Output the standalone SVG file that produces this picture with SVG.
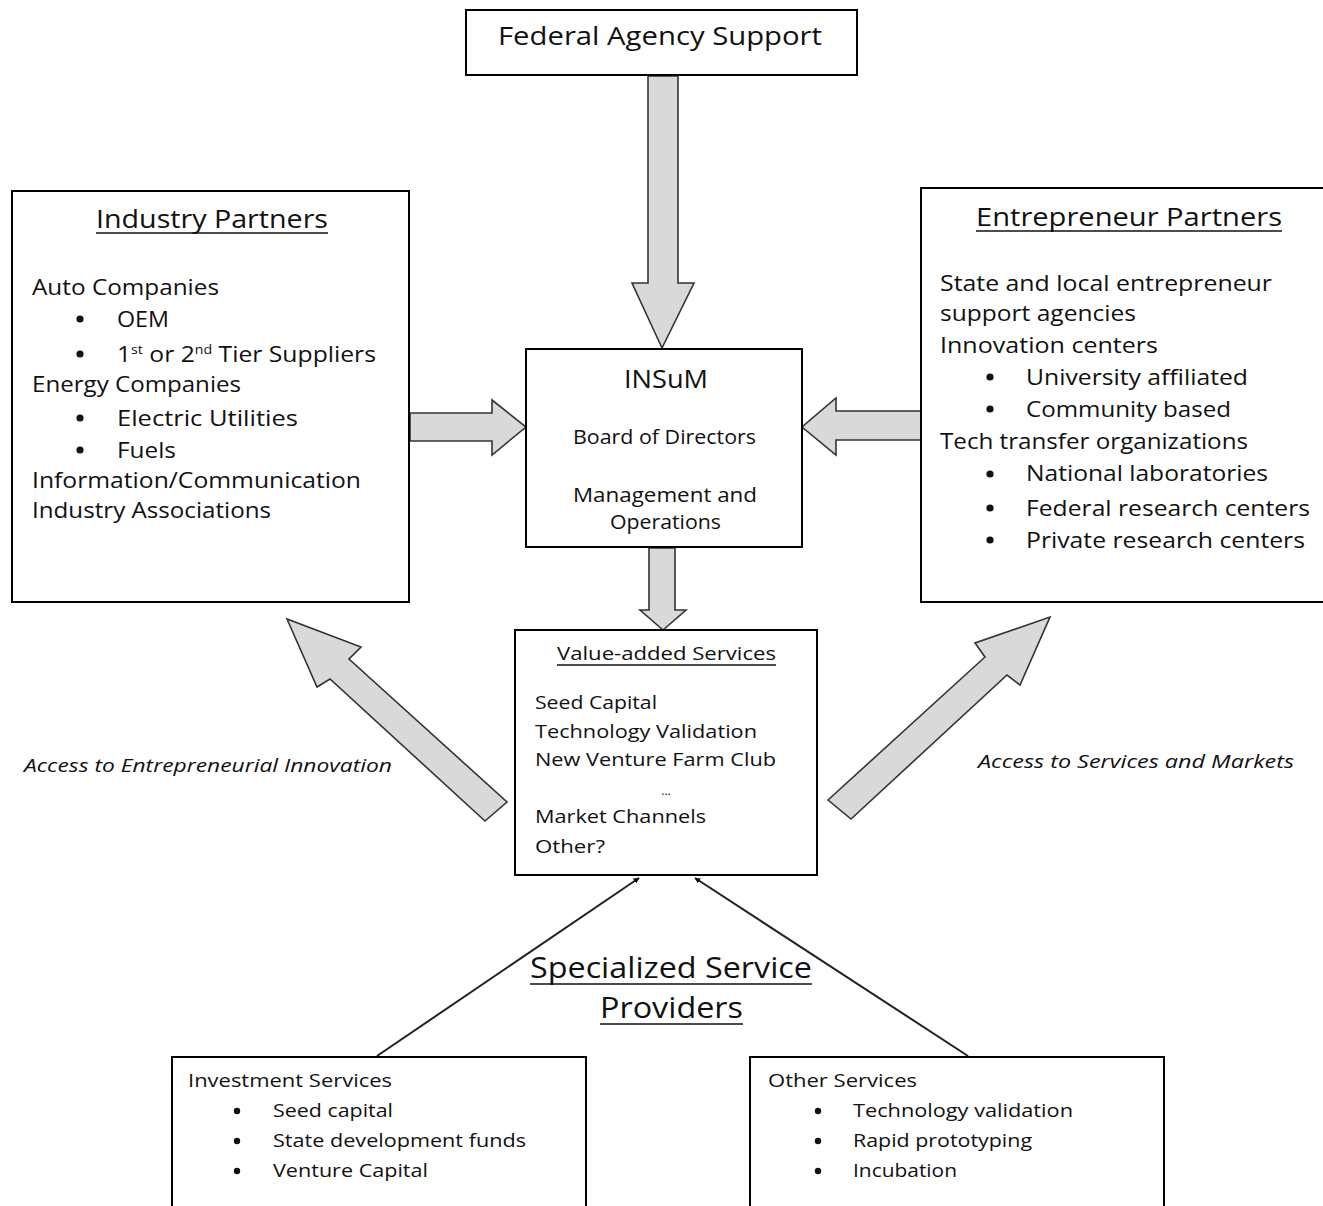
<svg xmlns="http://www.w3.org/2000/svg" width="1323" height="1206" viewBox="0 0 1323 1206">
<defs>
<style>
.box{fill:#fff;stroke:#000;stroke-width:2}
.big{fill:#d9d9d9;stroke:#333;stroke-width:1.6;stroke-linejoin:miter}
.t{font-family:"Open Sans","Liberation Sans",sans-serif;fill:#111}
.ul{stroke:#111;stroke-width:1.6}
.thin{stroke:#222;stroke-width:2;fill:none}
</style>
<marker id="ah" viewBox="0 0 10 10" refX="9" refY="5" markerWidth="6" markerHeight="6" orient="auto" markerUnits="userSpaceOnUse">
<path d="M0,0 L10,5 L0,10 z" fill="#111"/>
</marker>
</defs>
<rect width="1323" height="1206" fill="#fff"/>

<g id="connectors">
<polygon class="big" points="648,76 678,76 678,283 694,283 662,348 632,283 648,283"/>
<polygon class="big" points="410,413 492,413 492,400 526,427 492,455 492,441 410,441"/>
<polygon class="big" points="921,411 836,411 836,398 802,427 836,455 836,440 921,440"/>
<polygon class="big" points="649,548 675,548 675,610 686,610 663,630 640,610 649,610"/>
<polygon class="big" points="485,821 330,679 317,687 287,619 361,647 349,659 507,802"/>
<polygon class="big" points="828,800 985,657 975,643 1050,617 1020,685 1007,675 851,819"/>
<line class="thin" x1="377" y1="1056" x2="639" y2="878" marker-end="url(#ah)"/>
<line class="thin" x1="968" y1="1056" x2="695" y2="878" marker-end="url(#ah)"/>
</g>

<g id="federal">
<rect class="box" x="466" y="10" width="391" height="65"/>
<text class="t" x="498" y="45" font-size="26" textLength="324" lengthAdjust="spacingAndGlyphs">Federal Agency Support</text>
</g>

<g id="industry">
<rect class="box" x="12" y="191" width="397" height="411"/>
<text class="t" x="96" y="228" font-size="26" textLength="232" lengthAdjust="spacingAndGlyphs">Industry Partners</text>
<line class="ul" x1="96" y1="233" x2="328" y2="233"/>
<text class="t" x="32" y="295" font-size="21" textLength="187" lengthAdjust="spacingAndGlyphs">Auto Companies</text>
<circle cx="80" cy="319" r="3.6" fill="#111"/>
<text class="t" x="117" y="327" font-size="21" textLength="52" lengthAdjust="spacingAndGlyphs">OEM</text>
<circle cx="80" cy="354" r="3.6" fill="#111"/>
<text class="t" x="117" y="362" font-size="21" textLength="259" lengthAdjust="spacingAndGlyphs">1<tspan font-size="12" dy="-8">st</tspan><tspan dy="8"> or 2</tspan><tspan font-size="12" dy="-8">nd</tspan><tspan dy="8"> Tier Suppliers</tspan></text>
<text class="t" x="32" y="392" font-size="21" textLength="209" lengthAdjust="spacingAndGlyphs">Energy Companies</text>
<circle cx="80" cy="418" r="3.6" fill="#111"/>
<text class="t" x="117" y="426" font-size="21" textLength="181" lengthAdjust="spacingAndGlyphs">Electric Utilities</text>
<circle cx="80" cy="450" r="3.6" fill="#111"/>
<text class="t" x="117" y="458" font-size="21" textLength="59" lengthAdjust="spacingAndGlyphs">Fuels</text>
<text class="t" x="32" y="488" font-size="21" textLength="329" lengthAdjust="spacingAndGlyphs">Information/Communication</text>
<text class="t" x="32" y="518" font-size="21" textLength="239" lengthAdjust="spacingAndGlyphs">Industry Associations</text>
</g>

<g id="entrepreneur">
<rect class="box" x="921" y="188" width="420" height="414"/>
<text class="t" x="976" y="226" font-size="26" textLength="306" lengthAdjust="spacingAndGlyphs">Entrepreneur Partners</text>
<line class="ul" x1="976" y1="231" x2="1282" y2="231"/>
<text class="t" x="940" y="291" font-size="21" textLength="332" lengthAdjust="spacingAndGlyphs">State and local entrepreneur</text>
<text class="t" x="940" y="321" font-size="21" textLength="196" lengthAdjust="spacingAndGlyphs">support agencies</text>
<text class="t" x="940" y="353" font-size="21" textLength="218" lengthAdjust="spacingAndGlyphs">Innovation centers</text>
<circle cx="990" cy="377" r="3.6" fill="#111"/>
<text class="t" x="1026" y="385" font-size="21" textLength="222" lengthAdjust="spacingAndGlyphs">University affiliated</text>
<circle cx="990" cy="409" r="3.6" fill="#111"/>
<text class="t" x="1026" y="417" font-size="21" textLength="205" lengthAdjust="spacingAndGlyphs">Community based</text>
<text class="t" x="940" y="449" font-size="21" textLength="308" lengthAdjust="spacingAndGlyphs">Tech transfer organizations</text>
<circle cx="990" cy="474" r="3.6" fill="#111"/>
<text class="t" x="1026" y="481" font-size="21" textLength="242" lengthAdjust="spacingAndGlyphs">National laboratories</text>
<circle cx="990" cy="508" r="3.6" fill="#111"/>
<text class="t" x="1026" y="516" font-size="21" textLength="284" lengthAdjust="spacingAndGlyphs">Federal research centers</text>
<circle cx="990" cy="540" r="3.6" fill="#111"/>
<text class="t" x="1026" y="548" font-size="21" textLength="279" lengthAdjust="spacingAndGlyphs">Private research centers</text>
</g>

<g id="insum">
<rect class="box" x="526" y="349" width="276" height="198"/>
<text class="t" x="624" y="388" font-size="25" textLength="84" lengthAdjust="spacingAndGlyphs">INSuM</text>
<text class="t" x="573" y="444" font-size="20" textLength="183" lengthAdjust="spacingAndGlyphs">Board of Directors</text>
<text class="t" x="573" y="502" font-size="20" textLength="184" lengthAdjust="spacingAndGlyphs">Management and</text>
<text class="t" x="610" y="529" font-size="20" textLength="111" lengthAdjust="spacingAndGlyphs">Operations</text>
</g>

<g id="value">
<rect class="box" x="515" y="630" width="302" height="245"/>
<text class="t" x="557" y="660" font-size="19" textLength="219" lengthAdjust="spacingAndGlyphs">Value-added Services</text>
<line class="ul" x1="557" y1="665" x2="776" y2="665"/>
<text class="t" x="535" y="709" font-size="19" textLength="122" lengthAdjust="spacingAndGlyphs">Seed Capital</text>
<text class="t" x="535" y="738" font-size="19" textLength="222" lengthAdjust="spacingAndGlyphs">Technology Validation</text>
<text class="t" x="535" y="766" font-size="19" textLength="241" lengthAdjust="spacingAndGlyphs">New Venture Farm Club</text>
<text class="t" x="666" y="795" font-size="12" text-anchor="middle">...</text>
<text class="t" x="535" y="823" font-size="19" textLength="171" lengthAdjust="spacingAndGlyphs">Market Channels</text>
<text class="t" x="535" y="853" font-size="19" textLength="70" lengthAdjust="spacingAndGlyphs">Other?</text>
</g>

<g id="label-left">
<text class="t" x="24" y="772" font-size="19" font-style="italic" textLength="368" lengthAdjust="spacingAndGlyphs">Access to Entrepreneurial Innovation</text>
</g>
<g id="label-right">
<text class="t" x="978" y="768" font-size="19" font-style="italic" textLength="316" lengthAdjust="spacingAndGlyphs">Access to Services and Markets</text>
</g>

<g id="specialized">
<text class="t" x="530" y="978" font-size="29" textLength="282" lengthAdjust="spacingAndGlyphs">Specialized Service</text>
<line class="ul" x1="530" y1="984" x2="812" y2="984"/>
<text class="t" x="600" y="1018" font-size="29" textLength="143" lengthAdjust="spacingAndGlyphs">Providers</text>
<line class="ul" x1="600" y1="1024" x2="743" y2="1024"/>
</g>

<g id="investment">
<rect class="box" x="172" y="1057" width="414" height="160"/>
<text class="t" x="188" y="1087" font-size="19" textLength="204" lengthAdjust="spacingAndGlyphs">Investment Services</text>
<circle cx="237" cy="1111" r="3.2" fill="#111"/>
<text class="t" x="273" y="1117" font-size="19" textLength="120" lengthAdjust="spacingAndGlyphs">Seed capital</text>
<circle cx="237" cy="1141" r="3.2" fill="#111"/>
<text class="t" x="273" y="1147" font-size="19" textLength="253" lengthAdjust="spacingAndGlyphs">State development funds</text>
<circle cx="237" cy="1171" r="3.2" fill="#111"/>
<text class="t" x="273" y="1177" font-size="19" textLength="155" lengthAdjust="spacingAndGlyphs">Venture Capital</text>
</g>

<g id="other">
<rect class="box" x="750" y="1057" width="414" height="160"/>
<text class="t" x="768" y="1087" font-size="19" textLength="149" lengthAdjust="spacingAndGlyphs">Other Services</text>
<circle cx="818" cy="1111" r="3.2" fill="#111"/>
<text class="t" x="853" y="1117" font-size="19" textLength="220" lengthAdjust="spacingAndGlyphs">Technology validation</text>
<circle cx="818" cy="1141" r="3.2" fill="#111"/>
<text class="t" x="853" y="1147" font-size="19" textLength="179" lengthAdjust="spacingAndGlyphs">Rapid prototyping</text>
<circle cx="818" cy="1171" r="3.2" fill="#111"/>
<text class="t" x="853" y="1177" font-size="19" textLength="104" lengthAdjust="spacingAndGlyphs">Incubation</text>
</g>
</svg>
